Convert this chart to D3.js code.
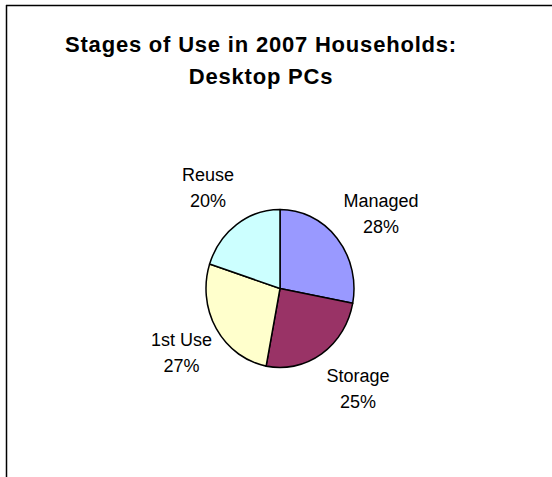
<!DOCTYPE html>
<html>
<head>
<meta charset="utf-8">
<script src="https://cdn.jsdelivr.net/npm/d3@7"></script>
<style>
  html, body { margin: 0; padding: 0; background: #fff; }
  svg { display: block; }
  text { font-family: "Liberation Sans", Arial, sans-serif; fill: #000; }
</style>
</head>
<body>
<svg id="chart" width="552" height="477"></svg>
<script>
const titleLines = ["Stages of Use in 2007 Households:", "Desktop PCs"];
const categories = ["Managed", "Storage", "1st Use", "Reuse"];
const values = [28, 25, 27, 20];
const colors = ["#9999FF", "#993366", "#FFFFCC", "#CCFFFF"];

const W = 552, H = 477;
const svg = d3.select("#chart");

// frame (top and left edges visible)
svg.append("line").attr("x1", 6).attr("y1", 5.5).attr("x2", W).attr("y2", 5.5)
  .attr("stroke", "#000").attr("stroke-width", 1.5);
svg.append("line").attr("x1", 6.5).attr("y1", 5).attr("x2", 6.5).attr("y2", H)
  .attr("stroke", "#000").attr("stroke-width", 1.5);

// title
const title = svg.append("text").attr("text-anchor", "middle")
  .style("font-weight", "bold").style("font-size", "22px").style("letter-spacing", "0.8px");
titleLines.forEach((t, i) => {
  title.append("tspan").attr("x", 261).attr("y", 52 + i * 32).text(t);
});

// pie
const cx = 280, cy = 288.5, r = 74, sy = 79 / 74;
const data = categories.map((c, i) => ({ name: c, value: values[i], color: colors[i] }));
const pie = d3.pie().value(d => d.value).sort(null);
const arcs = pie(data);
const arc = d3.arc().innerRadius(0).outerRadius(r);

const g = svg.append("g").attr("transform", `translate(${cx},${cy}) scale(1,${sy})`);
g.selectAll("path").data(arcs).join("path")
  .attr("d", arc)
  .attr("fill", d => d.data.color)
  .attr("stroke", "#000")
  .attr("stroke-width", 1.5)
  .attr("stroke-linejoin", "round");

// label placement offsets relative to the pie centre (layout, not data)
const labelPos = {
  "Managed": [101, -77.5],
  "Storage": [78, 97.5],
  "1st Use": [-98.5, 61.5],
  "Reuse": [-72, -103.5]
};
const labels = svg.append("g").attr("transform", `translate(${cx},${cy})`);
const total = d3.sum(values);
arcs.forEach(d => {
  const [x, y] = labelPos[d.data.name];
  const t = labels.append("text").attr("text-anchor", "middle").style("font-size", "18px");
  t.append("tspan").attr("x", x).attr("y", y - 4).text(d.data.name);
  t.append("tspan").attr("x", x).attr("y", y + 22)
    .text(Math.round(d.data.value / total * 100) + "%");
});
</script>
</body>
</html>
